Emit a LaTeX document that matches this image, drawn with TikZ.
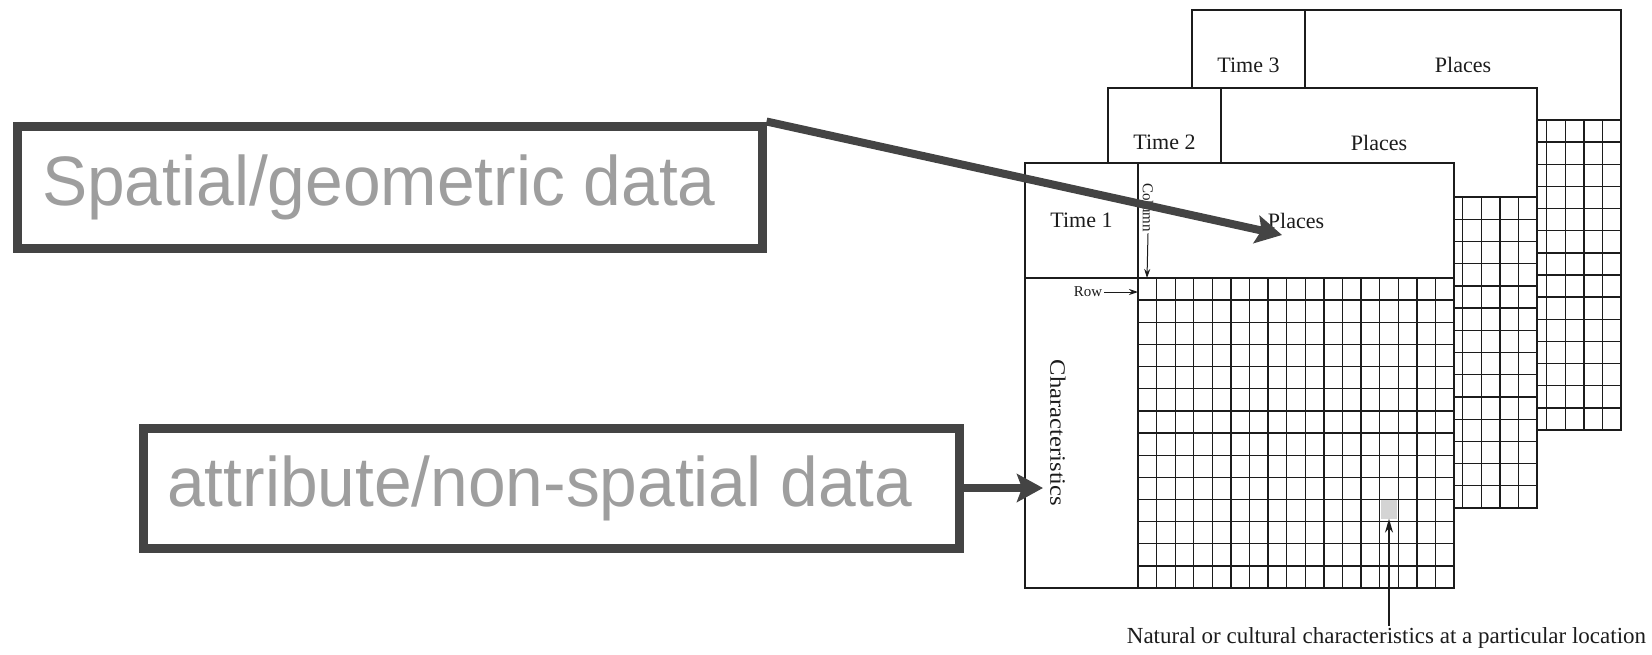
\documentclass[tikz,border=0pt]{standalone}
\usepackage{fontspec}
\setmainfont{Liberation Serif}
\newfontfamily\calloutfont{Liberation Sans}
\usetikzlibrary{arrows.meta}

\definecolor{boxgray}{RGB}{68,68,68}
\definecolor{labelgray}{RGB}{158,158,158}
\definecolor{ink}{RGB}{28,28,28}
\definecolor{cellgray}{RGB}{212,212,212}

\tikzset{
  databox/.style={draw=boxgray, line width=9pt, fill=white, inner sep=0pt},
  bigtext/.style={font=\calloutfont\fontsize{70}{80}\selectfont, text=labelgray, inner sep=0pt},
  bigarrow/.style={draw=boxgray, line width=8pt, -{Stealth[length=26pt,width=28pt,inset=5pt]}},
  sheetline/.style={draw=ink, line width=2.1pt},
  gridline/.style={draw=ink, line width=1.3pt},
  sheettext/.style={font=\fontsize{22}{26}\selectfont, text=ink, inner sep=0pt},
  smalltext/.style={font=\fontsize{15}{18}\selectfont, text=ink, inner sep=1.5pt},
  smallarrow/.style={draw=ink, line width=1pt, -{Stealth[length=9pt,width=6pt]}},
  pointer/.style={draw=ink, line width=1.2pt, -{Stealth[length=14pt,width=8pt]}},
}

% one data sheet: #1,#2 top-left corner, #3 height, #4 header height, #5 id, #6 time label
\newcommand{\drawsheet}[6]{%
  \begin{scope}[shift={(#1,#2)}]
    \fill[white] (0,0) rectangle (429,#3);
    \foreach \cl in {1,...,16}
      \draw[gridline] ({113+\cl*18.59},#4) -- ({113+\cl*18.59},#3);
    \foreach \rw in {1,...,13}
      \draw[gridline] (113,{#4+\rw*(#3-#4)/14}) -- (429,{#4+\rw*(#3-#4)/14});
    \draw[sheetline] (0,0) rectangle (429,#3);
    \draw[sheetline] (0,#4) -- (429,#4);
    \draw[sheetline] (113,0) -- (113,#3);
    \node[sheettext] (time#5) at (56.5,{#4/2}) {#6};
    \node[sheettext] (places#5) at (271,{#4/2}) {Places};
  \end{scope}}

\begin{document}
\begin{tikzpicture}[x=1pt,y=-1pt]
\useasboundingbox[fill=white] (0,0) rectangle (1652,654);

% stacked sheets, back to front
\drawsheet{1192}{10}{420}{110}{3}{Time 3}
\drawsheet{1108}{88}{420}{109}{2}{Time 2}
\drawsheet{1025}{163}{425}{115}{1}{Time 1}

% highlighted cell of the front sheet
\node[fill=cellgray, minimum width=16pt, minimum height=19pt, inner sep=0pt] (cell) at (1389,509) {};

% row and column markers
\node[smalltext, rotate=-90] (column) at (1148,207.5) {Column};
\coordinate (colhit) at (1147,278);
\draw[smallarrow] (column.east) -- (colhit);
\node[smalltext, anchor=east] (row) at (1104,292) {Row};
\coordinate (rowhit) at (1138,292);
\draw[smallarrow] (row.east) -- (rowhit);

\node[sheettext, rotate=-90] (chars) at (1058,433) {\scalebox{1.12}[1]{Characteristics}};

% caption under the sheets
\node[font=\fontsize{23}{27}\selectfont, text=ink, inner sep=1pt, anchor=base] (caption) at (1386.5,643)
  {Natural or cultural characteristics at a particular location};
\draw[pointer] (cell.center |- caption.north) -- (cell.south);

% callout boxes
\node[databox, minimum width=745pt, minimum height=122pt] (spatial) at (389.5,187) {};
\node[bigtext, anchor=base west] (spatialtext) at (42,205) {\scalebox{0.967}[1]{Spatial/geometric data}};
\node[databox, minimum width=816pt, minimum height=120pt] (attribute) at (551,488) {};
\node[bigtext, anchor=base west] (attributetext) at (167,506) {\scalebox{0.967}[1]{attribute/non-spatial data}};

% callout arrows
\coordinate (spatialtip) at (1282,235);
\draw[bigarrow] (spatial.north east) -- (spatialtip);
\coordinate (attributetip) at (1043,488);
\draw[bigarrow] (attribute.east) -- (attributetip);
\end{tikzpicture}
\end{document}
